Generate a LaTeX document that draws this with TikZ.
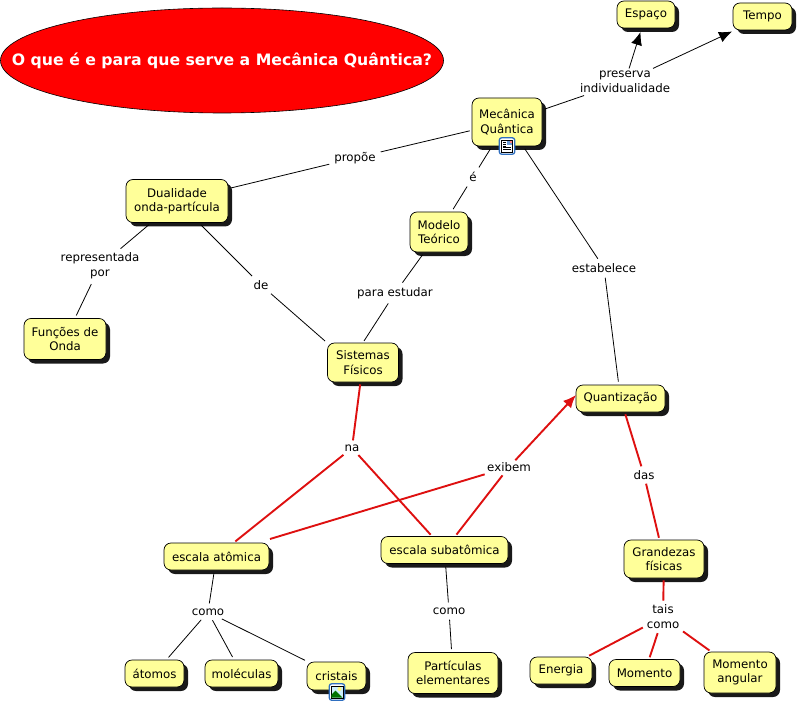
\documentclass[tikz,border=0pt]{standalone}
\usepackage{fontspec}
\setmainfont{DejaVu Sans}
\usetikzlibrary{shadows,arrows.meta,shapes.geometric}
\definecolor{conceptfill}{HTML}{FFFF99}
\definecolor{redlink}{HTML}{DE1010}
\definecolor{iconblue}{HTML}{2F6FC0}
\tikzset{
  concept/.style={draw=black,line width=0.7pt,fill=conceptfill,rounded corners=7pt,align=center,
    inner sep=0pt,font=\fontsize{11.8}{14.5}\selectfont,
    drop shadow={shadow xshift=4pt,shadow yshift=-4pt,fill=black!90,opacity=1}},
  linklabel/.style={align=center,inner sep=2pt,font=\fontsize{11.8}{15}\selectfont},
  blackline/.style={draw=black,line width=0.8pt},
  redline/.style={draw=redlink,line width=1.9pt},
  blackarrow/.style={blackline,-{Latex[length=13pt,width=11pt]}},
  redarrow/.style={redline,-{Latex[length=13pt,width=11pt]}},
  iconbox/.style={draw=iconblue,line width=1.3pt,fill=white,rounded corners=2.5pt,minimum width=15.5pt,minimum height=16.5pt,inner sep=0pt},
}
\begin{document}
\begin{tikzpicture}[x=1pt,y=-1pt]
\useasboundingbox (0,0) rectangle (797,703);
% title
\node[ellipse,draw=black,line width=0.6pt,fill=red,minimum width=443pt,minimum height=105pt,inner sep=0pt] (title) at (222,60.5) {};
\node[text=white,inner sep=0pt,font=\bfseries\fontsize{15.7}{18}\selectfont] (titletext) at (title.center) {O que é e para que serve a Mecânica Quântica?};
% link labels
\node[linklabel] (lpres) at (625,81.5) {preserva\\individualidade};
\node[linklabel] (lprop) at (355,158) {propõe};
\node[linklabel] (le) at (473,177) {é};
\node[linklabel] (lrep) at (100,266) {representada\\por};
\node[linklabel] (lde) at (261,285) {de};
\node[linklabel] (lpara) at (395,293) {para estudar};
\node[linklabel] (lest) at (604,268) {estabelece};
\node[linklabel] (lna) at (352,448) {na};
\node[linklabel] (lexi) at (509,467) {exibem};
\node[linklabel] (ldas) at (644,475) {das};
\node[linklabel] (lcom1) at (208,612) {como};
\node[linklabel] (lcom2) at (449,611) {como};
\node[linklabel] (ltais) at (663,617) {tais\\como};
% concepts
\node[concept,minimum width=58pt,minimum height=27pt] (esp) at (646,14.5) {Espaço};
\node[concept,minimum width=59pt,minimum height=27pt] (tem) at (762.5,16.5) {Tempo};
\node[concept,minimum width=70pt,minimum height=48pt] (mq) at (507,122) {Mecânica\\Quântica};
\node[concept,minimum width=102pt,minimum height=43pt] (dual) at (177,201) {Dualidade\\onda-partícula};
\node[concept,minimum width=58pt,minimum height=40pt] (mod) at (439,232) {Modelo\\Teórico};
\node[concept,minimum width=82pt,minimum height=41pt] (fun) at (65,339) {Funções de\\Onda};
\node[concept,minimum width=71pt,minimum height=39pt] (sis) at (363,362.5) {Sistemas\\Físicos};
\node[concept,minimum width=89pt,minimum height=27pt] (qua) at (620.5,398.5) {Quantização};
\node[concept,minimum width=105pt,minimum height=27pt] (eat) at (216.5,556.5) {escala atômica};
\node[concept,minimum width=127pt,minimum height=27pt] (esu) at (444.5,550) {escala subatômica};
\node[concept,minimum width=80pt,minimum height=38pt] (gra) at (664,559) {Grandezas\\físicas};
\node[concept,minimum width=59pt,minimum height=27pt] (ato) at (154.5,673.5) {átomos};
\node[concept,minimum width=73pt,minimum height=27pt] (mol) at (241.5,673.5) {moléculas};
\node[concept,minimum width=59pt,minimum height=28pt] (cri) at (336.5,676) {cristais};
\node[concept,minimum width=90pt,minimum height=41pt] (par) at (453,673) {Partículas\\elementares};
\node[concept,minimum width=62pt,minimum height=27pt] (ene) at (561,670.5) {Energia};
\node[concept,minimum width=71pt,minimum height=27pt] (mom) at (644.5,673) {Momento};
\node[concept,minimum width=72pt,minimum height=41pt] (ang) at (740,672.5) {Momento\\angular};
% connector ends off the node centres
\coordinate (espend) at (640.5,32);
\coordinate (temend) at (732,31.5);
\coordinate (quaend) at (576,395);
\coordinate (sisA) at (325,341);
\coordinate (sisB) at (364,341);
\coordinate (eatX) at (270,539);
% black connectors
\draw[blackline,shorten >=3pt,shorten <=3pt] (mq) -- (lpres);
\draw[blackarrow] (lpres) -- (espend);
\draw[blackarrow] (lpres) -- (temend);
\draw[blackline,shorten >=3pt,shorten <=2pt] (mq) -- (lprop);
\draw[blackline,shorten >=3pt,shorten <=3pt] (lprop) -- (dual);
\draw[blackline,shorten >=3pt,shorten <=3pt] (mq) -- (le);
\draw[blackline,shorten >=3pt,shorten <=3pt] (le) -- (mod);
\draw[blackline,shorten >=3pt,shorten <=3pt] (mq) -- (lest);
\draw[blackline,shorten >=3pt,shorten <=3pt] (lest) -- (qua);
\draw[blackline,shorten >=3pt,shorten <=3pt] (dual) -- (lrep);
\draw[blackline,shorten >=3pt,shorten <=3pt] (lrep) -- (fun);
\draw[blackline,shorten >=3pt,shorten <=3pt] (dual) -- (lde);
\draw[blackline,shorten <=3pt] (lde) -- (sisA);
\draw[blackline,shorten >=3pt,shorten <=3pt] (mod) -- (lpara);
\draw[blackline,shorten <=3pt] (lpara) -- (sisB);
\draw[blackline,shorten >=3pt,shorten <=3pt] (eat) -- (lcom1);
\draw[blackline,shorten >=3pt,shorten <=3pt] (lcom1) -- (ato);
\draw[blackline,shorten >=3pt,shorten <=3pt] (lcom1) -- (mol);
\draw[blackline,shorten >=3pt,shorten <=3pt] (lcom1) -- (cri);
\draw[blackline,shorten >=3pt,shorten <=3pt] (esu) -- (lcom2);
\draw[blackline,shorten >=3pt,shorten <=3pt] (lcom2) -- (par);
% red connectors
\draw[redline,shorten >=2pt,shorten <=2pt] (sis) -- (lna);
\draw[redline,shorten >=2pt,shorten <=2pt] (lna) -- (eat);
\draw[redline,shorten >=2pt,shorten <=2pt] (lna) -- (esu);
\draw[redline,shorten >=2pt] (eatX) -- (lexi);
\draw[redline,shorten >=2pt,shorten <=2pt] (esu) -- (lexi);
\draw[redarrow] (lexi) -- (quaend);
\draw[redline,shorten >=2pt,shorten <=2pt] (qua) -- (ldas);
\draw[redline,shorten >=2pt,shorten <=2pt] (ldas) -- (gra);
\draw[redline,shorten >=2pt,shorten <=2pt] (gra) -- (ltais);
\draw[redline,shorten >=2pt,shorten <=2pt] (ltais) -- (ene);
\draw[redline,shorten >=2pt,shorten <=2pt] (ltais) -- (mom);
\draw[redline,shorten >=2pt,shorten <=2pt] (ltais) -- (ang);
% icons
\node[iconbox] (icona) at (507,146) {};
\draw[black,line width=0.7pt,fill=white] (501.5,140) rectangle (512.5,152);
\fill[iconblue!70] (507,141) rectangle (512,145.5);
\fill[red!50] (510,141) rectangle (512,143);
\foreach \yy in {147.5,149.5} \draw[black,line width=0.7pt] (503,\yy) -- (511,\yy);
\foreach \yy in {142,144,146} \draw[black,line width=0.7pt] (503,\yy) -- (506,\yy);
\node[iconbox] (iconb) at (337,692) {};
\fill[cyan!20,draw=black,line width=0.6pt] (331,686) rectangle (343,698);
\fill[yellow!50] (339.5,689) circle (2pt);
\fill[green!45!black] (331.3,697.7) -- (331.3,695) -- (335.5,690.5) -- (342.7,697.7) -- cycle;
\end{tikzpicture}
\end{document}
